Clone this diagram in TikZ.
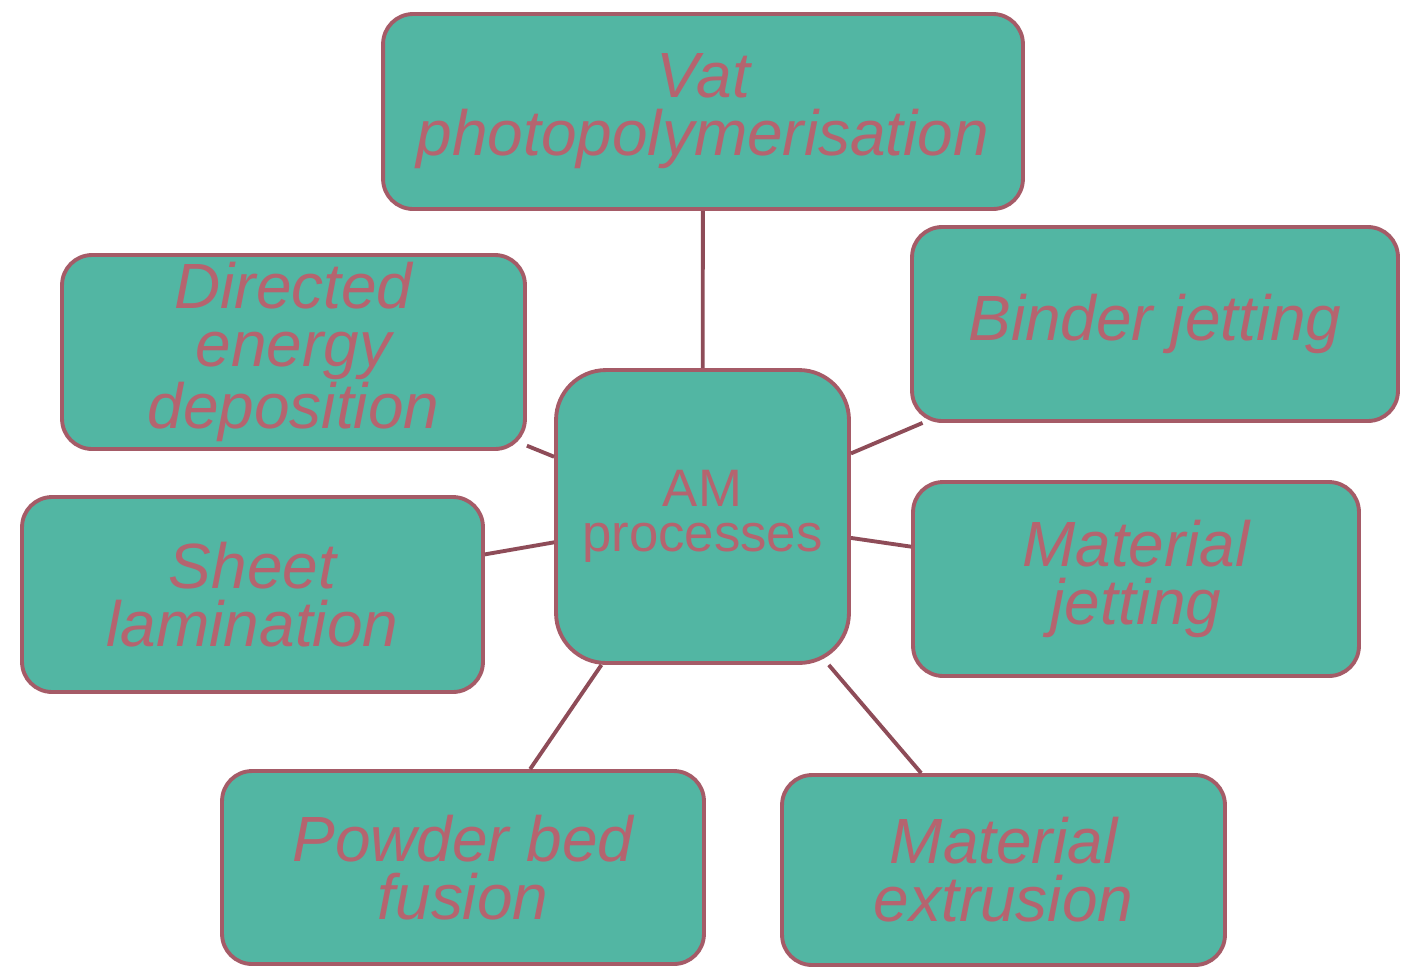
\documentclass[tikz,border=0pt]{standalone}
\usepackage{fontspec}
\setmainfont{Liberation Sans}
\definecolor{boxfill}{HTML}{52B6A3}
\definecolor{boxline}{HTML}{A55B67}
\definecolor{boxtext}{HTML}{B5646F}
\definecolor{conn}{HTML}{8E4C58}
\begin{document}
\begin{tikzpicture}[x=0.02cm,y=-0.02cm,
  procbox/.style={draw=boxline, fill=boxfill, line width=2.2pt, rounded corners=0.6cm,
    text=boxtext, align=center, inner sep=0pt,
    font=\fontsize{36.4pt}{33pt}\selectfont\itshape},
  hubbox/.style={draw=boxline, fill=boxfill, line width=2.2pt, rounded corners=1cm,
    text=boxtext, align=center, inner sep=0pt,
    font=\fontsize{30pt}{25.6pt}\selectfont},
  link/.style={draw=conn, line width=2.2pt}]
\useasboundingbox (0,0) rectangle (1402,968);
\node[hubbox, minimum width=5.86cm, minimum height=5.86cm] (hub) at (702.5,516.5) {AM\\processes};
\node[procbox, minimum width=12.8cm, minimum height=3.9cm] (vat) at (703,111.5) {Vat\\photopolymerisation};
\node[procbox, minimum width=9.72cm, minimum height=3.88cm] (bind) at (1155,324) {Binder jetting};
\node[procbox, minimum width=9.26cm, minimum height=3.88cm] (ded) at (293.5,352) {Directed\\energy\\deposition};
\node[procbox, minimum width=9.22cm, minimum height=3.9cm] (sheet) at (252.5,594.5) {Sheet\\lamination};
\node[procbox, minimum width=8.92cm, minimum height=3.88cm] (mjet) at (1136,579) {Material\\jetting};
\node[procbox, minimum width=9.64cm, minimum height=3.86cm] (pbf) at (463,867.5) {Powder bed\\fusion};
\node[procbox, minimum width=8.86cm, minimum height=3.8cm] (mex) at (1003.5,870) {Material\\extrusion};
\draw[link] (hub) -- (vat);
\draw[link] (hub) -- (bind);
\draw[link] (hub) -- (ded);
\draw[link] (hub) -- (sheet);
\draw[link] (hub) -- (mjet);
\draw[link] (hub) -- (pbf);
\draw[link] (hub) -- (mex);
\end{tikzpicture}
\end{document}
